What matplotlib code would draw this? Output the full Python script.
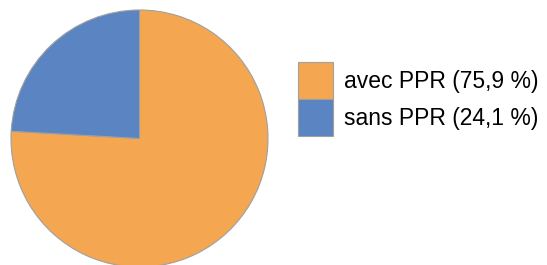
import matplotlib.pyplot as plt

labels = ['avec PPR (75,9 %)', 'sans PPR (24,1 %)']
shares = [75.9, 24.1]
colors = ['#F4A650', '#5B84C2']

plt.rcParams['font.family'] = ['Liberation Sans', 'DejaVu Sans']

W, H = 547, 265
fig = plt.figure(figsize=(W / 100, H / 100), dpi=100)

# pie square: 257 px, center near (139.5, 138.5) from top-left
ax = fig.add_axes([11 / W, (H - 267) / H, 257 / W, 257 / H])
wedges, _ = ax.pie(shares, colors=colors, startangle=90, counterclock=False,
                   wedgeprops=dict(edgecolor='#A0A0A0', linewidth=0.8))
for w in wedges:
    w.set_clip_on(False)
ax.set_xlim(-1, 1)
ax.set_ylim(-1, 1)
ax.axis('off')

fig.legend(wedges, labels, loc='upper left',
           bbox_to_anchor=(298 / W, 1 - 62 / H), bbox_transform=fig.transFigure,
           frameon=False, fontsize=16.5, handlelength=1.53, handleheight=2.11,
           labelspacing=0, handletextpad=0.48, borderpad=0, borderaxespad=0)

fig.savefig('out.png', dpi=100)
